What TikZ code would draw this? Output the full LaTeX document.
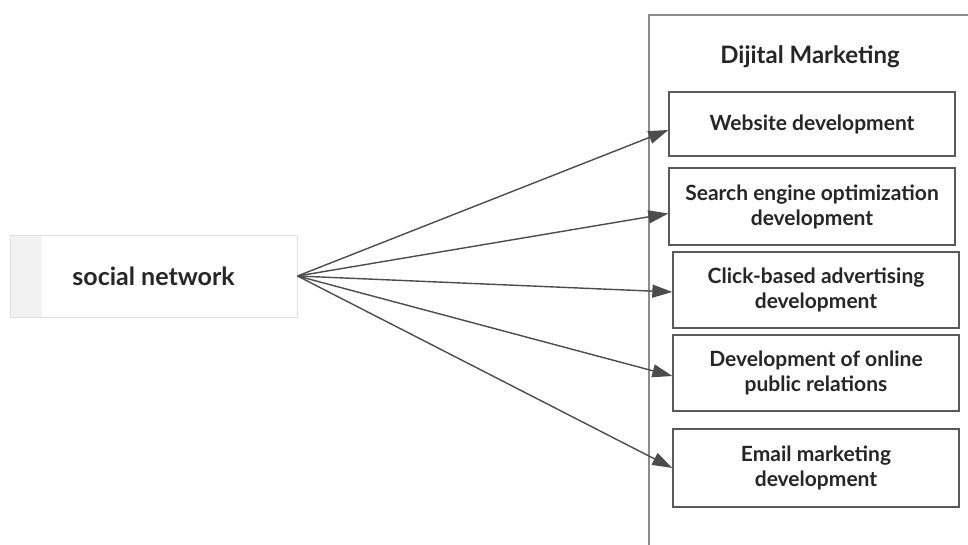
\documentclass[tikz,border=0pt]{standalone}
\usepackage{fontspec}
\setmainfont{Lato}
\usetikzlibrary{arrows.meta}

\begin{document}
\begin{tikzpicture}[x=1pt, y=-1pt, font=\bfseries]
\tikzstyle{box} = [draw=black!65, line width=1.3pt, fill=white, minimum width=286pt, align=center, font=\bfseries\fontsize{21}{25}\selectfont, text=black!85]
\tikzstyle{e} = [draw=black!70, line width=1.4pt, -{Triangle[length=20pt, width=13pt]}]

\useasboundingbox (0, 0) rectangle (968, 544);
\fill[white] (0, 0) rectangle (968, 544);

% digital marketing frame
\draw[black!45, line width=1.5pt] (649, 560) -- (649, 15) -- (980, 15);
\node[font=\bfseries\fontsize{24}{28}\selectfont, text=black!85] (T) at (810, 57) {Dijital Marketing};

\node[box, minimum height=64pt] (W) at (812, 124) {Website development};
\node[box, minimum height=77pt] (S) at (812, 206.5) {Search engine optimization\\development};
\node[box, minimum height=76pt] (C) at (816, 290) {Click-based advertising\\development};
\node[box, minimum height=76pt] (D) at (816, 373) {Development of online\\public relations};
\node[box, minimum height=78pt] (M) at (816, 468) {Email marketing\\development};

% source
\fill[black!5] (10, 235) rectangle (42, 317);
\node[draw=black!12, line width=1pt, minimum width=287pt, minimum height=82pt, font=\bfseries\fontsize{25}{29}\selectfont, text=black!85] (N) at (153.5, 276) {social network};

\draw[e] (N.east) to ([yshift=-6pt]W.west);
\draw[e] (N.east) to ([yshift=-7pt]S.west);
\draw[e] (N.east) to ([yshift=-2pt]C.west);
\draw[e] (N.east) to ([yshift=-3pt]D.west);
\draw[e] (N.east) to (M.west);
\end{tikzpicture}
\end{document}
